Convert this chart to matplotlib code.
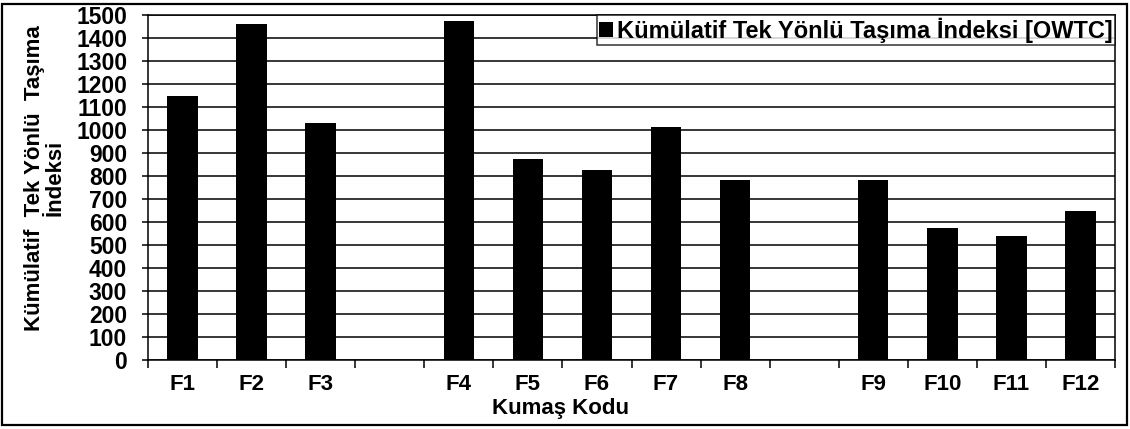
import numpy as np
import matplotlib
matplotlib.use("Agg")
import matplotlib.pyplot as plt
from matplotlib.patches import Rectangle

plt.rcParams['font.family'] = ['Liberation Sans', 'DejaVu Sans']

categories = ['F1', 'F2', 'F3', '', 'F4', 'F5', 'F6', 'F7', 'F8', '', 'F9', 'F10', 'F11', 'F12']
values = [1150, 1460, 1030, np.nan, 1475, 875, 825, 1012, 783, np.nan, 783, 573, 540, 648]
series_name = 'Kümülatif Tek Yönlü Taşıma İndeksi [OWTC]'
y_label = 'Kümülatif  Tek Yönlü  Taşıma\nİndeksi'
x_label = 'Kumaş Kodu'
y_ticks = list(range(0, 1501, 100))

W, H = 1130, 429
fig = plt.figure(figsize=(W / 100, H / 100), dpi=100)
ax = fig.add_axes([148 / W, (H - 360) / H, (1115 - 148) / W, (360 - 15) / H])

x = np.arange(len(categories)) + 0.5
ax.bar(x, values, width=0.44, color='black', label=series_name, zorder=3)

ax.set_xlim(0, len(categories))
ax.set_ylim(0, 1500)
ax.set_yticks(y_ticks)
ax.set_yticklabels([str(v) for v in y_ticks], fontsize=16.5, fontweight='bold')
ax.yaxis.grid(True, color='black', linewidth=1.1, zorder=0)
ax.set_axisbelow(True)

ax.set_xticks(np.arange(len(categories) + 1))
ax.set_xticklabels([])
ax.set_xticks(x, minor=True)
ax.set_xticklabels(categories, minor=True, fontsize=16, fontweight='bold')
ax.tick_params(axis='x', which='major', direction='out', length=6, width=1.1)
ax.tick_params(axis='x', which='minor', length=0, pad=10)
ax.tick_params(axis='y', direction='out', length=4, width=1.1, pad=11)

for s in ax.spines.values():
    s.set_color('black')
    s.set_linewidth(1.1)

leg = ax.legend(loc='upper right', bbox_to_anchor=(1.0, 1.0), borderaxespad=0,
                prop={'size': 17, 'weight': 'bold'}, frameon=True, fancybox=False,
                handlelength=0.6, handleheight=0.6, handletextpad=0.15,
                borderpad=0.1, labelspacing=0)
leg.get_frame().set_edgecolor('black')
leg.get_frame().set_linewidth(1.1)

fig.text(45 / W, 1 - 178 / H, y_label, rotation=90, ha='center', va='center',
         multialignment='center', fontsize=16, fontweight='bold', linespacing=1.0)
fig.text(561 / W, (H - 414) / H, x_label, ha='center', va='baseline',
         fontsize=16, fontweight='bold')

fig.patches.append(Rectangle((2 / W, 4 / H), (1127 - 2) / W, (425 - 4) / H,
                             transform=fig.transFigure, fill=False,
                             edgecolor='black', linewidth=1.6))

fig.savefig('out.png', dpi=100)
